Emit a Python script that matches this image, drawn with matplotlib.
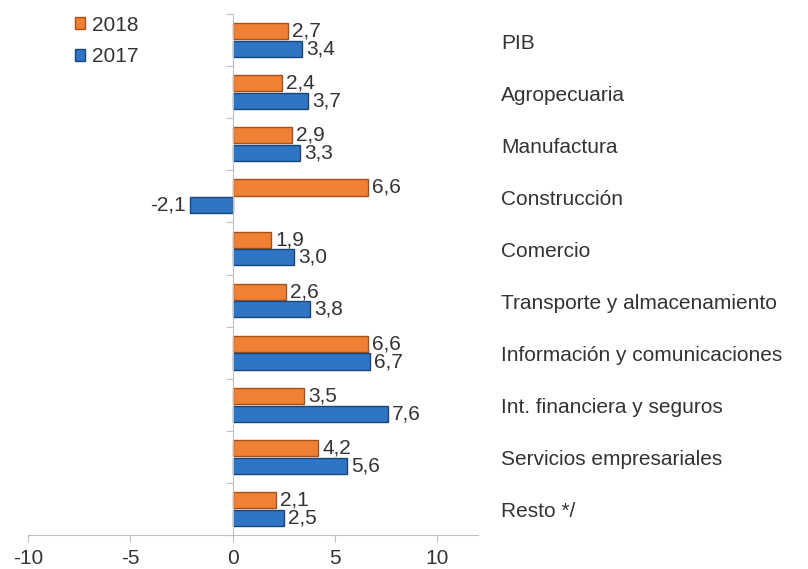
import numpy as np
import matplotlib
import matplotlib.pyplot as plt
matplotlib.use('agg')

plt.rcParams['font.family'] = ['Liberation Sans', 'DejaVu Sans']
plt.rcParams['axes.unicode_minus'] = False

categories = ["PIB", "Agropecuaria", "Manufactura", "Construcción", "Comercio",
              "Transporte y almacenamiento", "Información y comunicaciones",
              "Int. financiera y seguros", "Servicios empresariales", "Resto */"]
vals_2018 = [2.7, 2.4, 2.9, 6.6, 1.9, 2.6, 6.6, 3.5, 4.2, 2.1]
vals_2017 = [3.4, 3.7, 3.3, -2.1, 3.0, 3.8, 6.7, 7.6, 5.6, 2.5]
xticks = [-10, -5, 0, 5, 10]

orange = "#F08134"
orange_edge = "#A6501A"
blue = "#2F75C5"
blue_edge = "#1B4478"
grey = "#BFBFBF"
txt = "#333333"
fs = 15

fig = plt.figure(figsize=(8.08, 5.69), dpi=100)
ax = fig.add_axes([28/808, 1 - 535/569, 450/808, 521/569])

y = np.arange(len(categories))
h = 0.31
b18 = ax.barh(y - 0.17, vals_2018, height=h, color=orange, edgecolor=orange_edge, linewidth=1.0, label="2018")
b17 = ax.barh(y + 0.17, vals_2017, height=h, color=blue, edgecolor=blue_edge, linewidth=1.0, label="2017")

def fmt(v):
    return ("%.1f" % v).replace(".", ",")

for bars, vals in [(b18, vals_2018), (b17, vals_2017)]:
    for bar, v in zip(bars, vals):
        yc = bar.get_y() + bar.get_height() / 2
        if v >= 0:
            ax.text(v + 0.2, yc, fmt(v), va="center", ha="left", fontsize=fs, color=txt)
        else:
            ax.text(v - 0.2, yc, fmt(v), va="center", ha="right", fontsize=fs, color=txt)

ax.set_xlim(-10, 12)
ax.set_ylim(len(categories) - 0.5, -0.5)

ax.spines["top"].set_visible(False)
ax.spines["right"].set_visible(False)
ax.spines["left"].set_position(("data", 0))
ax.spines["left"].set_color(grey)
ax.spines["bottom"].set_color(grey)

ax.set_yticks(np.arange(-0.5, len(categories), 1.0))
ax.set_yticklabels([])
ax.tick_params(axis="y", length=5, color=grey, direction="out")
ax.set_xticks(xticks)
ax.set_xticklabels([str(t) for t in xticks])
ax.tick_params(axis="x", length=5, color=grey, labelsize=fs, labelcolor=txt, pad=5)

# category labels to the right of the plot
for i, c in enumerate(categories):
    ax.annotate(c, xy=(1, i), xycoords=("axes fraction", "data"),
                xytext=(23, -3), textcoords="offset pixels",
                va="center", ha="left", fontsize=fs, color=txt)

fig.legend(handles=[b18, b17], labels=["2018", "2017"], loc="upper left",
           bbox_to_anchor=(56/808, 1 + 3/569), frameon=False, fontsize=fs,
           handlelength=0.5, handleheight=0.5, handletextpad=0.35,
           labelspacing=0.6, labelcolor=txt)

fig.savefig("out.png", dpi=100)
